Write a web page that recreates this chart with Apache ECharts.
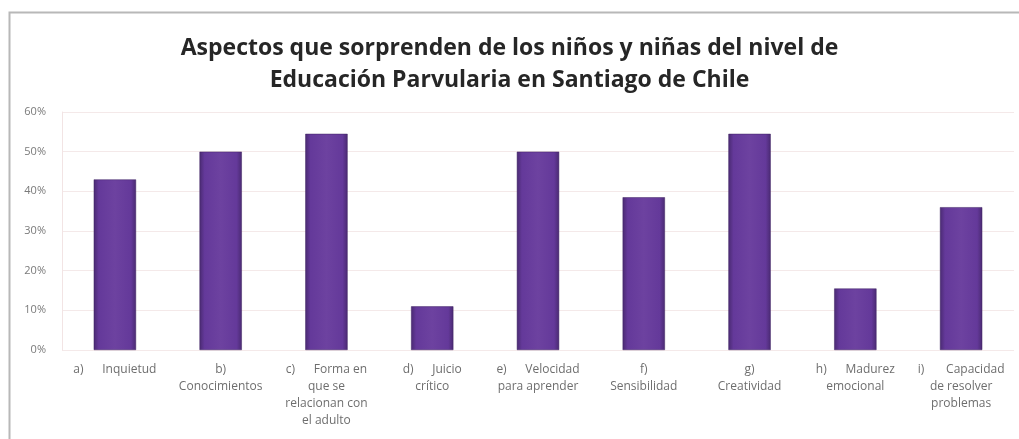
<!DOCTYPE html>
<html><head><meta charset="utf-8">
<script src="https://cdn.jsdelivr.net/npm/echarts@6/dist/echarts.min.js"></script>
<style>html,body{margin:0;padding:0;background:#fff}#c{width:1019px;height:439px}</style>
</head><body><div id="c"></div>
<script>
const titleText = "Aspectos que sorprenden de los niños y niñas del nivel de\nEducación Parvularia en Santiago de Chile";
const categories = [
  "a)      Inquietud",
  "b)\nConocimientos",
  "c)      Forma en\nque se\nrelacionan con\nel adulto",
  "d)      Juicio\ncrítico",
  "e)      Velocidad\npara aprender",
  "f)\nSensibilidad",
  "g)\nCreatividad",
  "h)      Madurez\nemocional",
  "i)       Capacidad\nde resolver\nproblemas"
];
const values = [43, 50, 54.5, 11, 50, 38.5, 54.5, 15.5, 36];
const yTicks = [0, 10, 20, 30, 40, 50, 60];

const chart = echarts.init(document.getElementById('c'));
chart.setOption({
  backgroundColor: '#fff',
  animation: false,
  graphic: [{
    type: 'rect', shape: {x: 9.5, y: 12.5, width: 1030, height: 440},
    style: {fill: 'none', stroke: '#b8b8b8', lineWidth: 2}, z: -1
  }],
  title: {
    text: titleText, left: 'center', top: 27,
    textStyle: {fontFamily: 'Open Sans', fontWeight: 'bold', fontSize: 23, color: '#262626', lineHeight: 32}
  },
  grid: {left: 62, right: 5, top: 112, bottom: 89},
  xAxis: {
    type: 'category', data: categories,
    axisTick: {show: false},
    axisLine: {show: false},
    axisLabel: {interval: 0, color: '#6e6e6e', fontFamily: 'Open Sans', fontSize: 12, lineHeight: 17, margin: 11, verticalAlign: 'top'}
  },
  yAxis: {
    type: 'value', min: yTicks[0], max: yTicks[yTicks.length-1], interval: 10,
    axisLine: {show: true, lineStyle: {color: '#f2e4e4'}},
    axisTick: {show: false},
    splitLine: {lineStyle: {color: '#f4e9e9'}},
    axisLabel: {formatter: v => v + '%', color: '#7a7a7a', fontFamily: 'Open Sans', fontSize: 11, margin: 16}
  },
  series: [{
    type: 'bar', data: values, barWidth: '40%',
    itemStyle: {
      color: new echarts.graphic.LinearGradient(0, 0, 1, 0, [
        {offset: 0, color: '#4a2a72'},
        {offset: 0.12, color: '#64399a'},
        {offset: 0.5, color: '#6d42a0'},
        {offset: 0.88, color: '#64399a'},
        {offset: 1, color: '#4a2a72'}
      ]),
      borderColor: '#3f2363', borderWidth: 0.5
    }
  }]
});
</script></body></html>
